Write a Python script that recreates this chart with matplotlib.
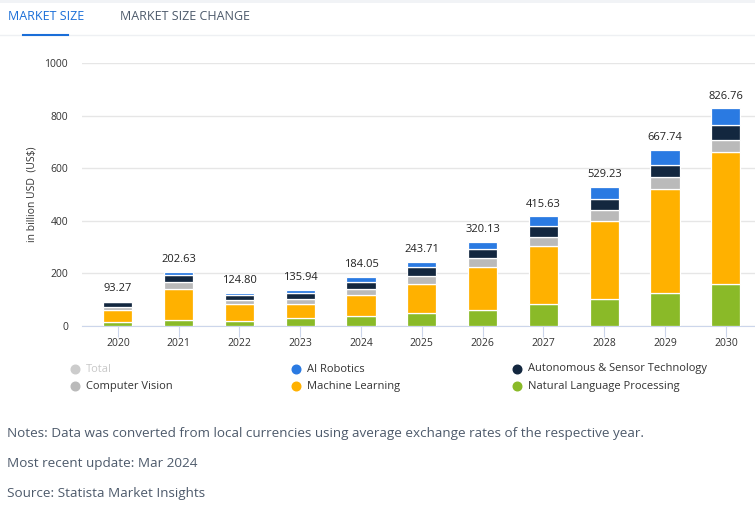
import numpy as np
import matplotlib.pyplot as plt
from matplotlib.lines import Line2D

plt.rcParams['font.family'] = ['Open Sans', 'DejaVu Sans']

# data (billion USD)
years = ['2020', '2021', '2022', '2023', '2024', '2025', '2026', '2027', '2028', '2029', '2030']
nlp = [14, 22, 18, 30, 37, 47, 60, 82, 102, 125, 159]
machine_learning = [46, 118, 65, 54, 79, 112, 163, 221, 298, 396, 501]
computer_vision = [10, 25, 16, 19, 23, 31, 34, 35, 42, 46, 46]
autonomous = [19, 28, 18, 21, 28, 33, 35, 42, 41, 46, 57]
ai_robotics = [4.27, 9.63, 7.80, 11.94, 17.05, 20.71, 28.13, 35.63, 46.23, 54.74, 63.76]
totals = [93.27, 202.63, 124.80, 135.94, 184.05, 243.71, 320.13, 415.63, 529.23, 667.74, 826.76]

series = [
    ('Natural Language Processing', nlp, '#8aba28'),
    ('Machine Learning', machine_learning, '#ffb100'),
    ('Computer Vision', computer_vision, '#bababa'),
    ('Autonomous & Sensor Technology', autonomous, '#13273f'),
    ('AI Robotics', ai_robotics, '#2a7ae2'),
]

fig = plt.figure(figsize=(7.55, 5.08), dpi=100)
ax = fig.add_axes([0.1086, 0.359, 0.8914, 0.517])

x = np.arange(len(years))
bottom = np.zeros(len(years))
for name, vals, col in series:
    ax.bar(x, vals, bottom=bottom, width=0.48, color=col, edgecolor='white', linewidth=0.9, zorder=3)
    bottom += np.array(vals)

for xi, t in zip(x, totals):
    ax.annotate(f'{t:.2f}', (xi, t), xytext=(0, 5), textcoords='offset points',
                ha='center', va='bottom', fontsize=8, color='#222222')

ax.set_xlim(-0.59, 10.48)
ax.set_ylim(0, 1000)
ax.set_yticks(range(0, 1001, 200))
ax.set_xticks(x)
ax.set_xticklabels(years)
ax.grid(axis='y', color='#e6e6e6', linewidth=1, zorder=0)
for s in ['top', 'right', 'left']:
    ax.spines[s].set_visible(False)
ax.spines['bottom'].set_color('#ccd6eb')
ax.tick_params(axis='x', length=8, color='#ccd6eb', labelsize=7.5, labelcolor='#333333', pad=1)
ax.tick_params(axis='y', length=0, labelsize=7.5, labelcolor='#333333', pad=10)
ax.set_ylabel('in billion USD  (US$)', fontsize=7.5, color='#333333', labelpad=5)

# tabs
fig.add_artist(plt.Rectangle((0, 1 - 3 / 508), 1, 3 / 508, color='#f1f3f6', lw=0))
fig.text(8 / 755, 1 - 16 / 508, 'MARKET SIZE', fontsize=9, color='#1a6ed8', va='center', ha='left')
fig.text(120 / 755, 1 - 16 / 508, 'MARKET SIZE CHANGE', fontsize=9, color='#4d5a6b', va='center', ha='left')
fig.add_artist(Line2D([0, 1], [1 - 35 / 508] * 2, color='#eef0f3', linewidth=1))
fig.add_artist(Line2D([23 / 755, 68 / 755], [1 - 35 / 508] * 2, color='#1a6ed8', linewidth=1.5))

# legend
legend_items = [
    ('Total', '#cccccc', 75, 369, '#c8c8c8'),
    ('Computer Vision', '#bababa', 75, 386, '#333333'),
    ('AI Robotics', '#2a7ae2', 296, 369, '#333333'),
    ('Machine Learning', '#ffb100', 296, 386, '#333333'),
    ('Autonomous & Sensor Technology', '#13273f', 517, 369, '#333333'),
    ('Natural Language Processing', '#8aba28', 517, 386, '#333333'),
]
for label, col, px, py, tcol in legend_items:
    fig.add_artist(Line2D([px / 755], [1 - py / 508], marker='o', markersize=6.2,
                          color=col, linestyle='none'))
    fig.text((px + 11) / 755, 1 - py / 508, label, fontsize=8, color=tcol, va='center', ha='left')

# notes
notes = ['Notes: Data was converted from local currencies using average exchange rates of the respective year.',
         'Most recent update: Mar 2024',
         'Source: Statista Market Insights']
for i, n in enumerate(notes):
    fig.text(7 / 755, 1 - (433 + 30 * i) / 508, n, fontsize=9.7, color='#4d5a6b', va='center', ha='left')

fig.savefig('out.png', dpi=100)
